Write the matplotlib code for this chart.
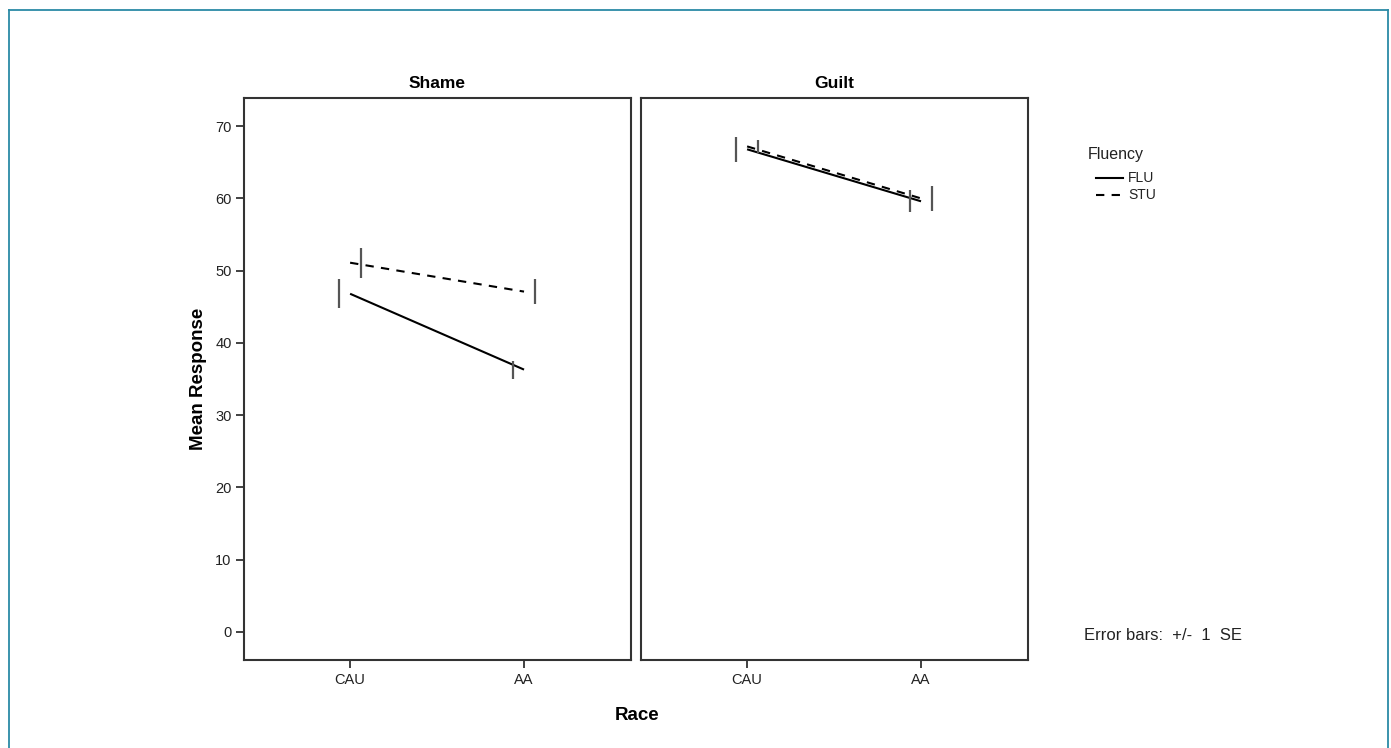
import matplotlib.pyplot as plt
from matplotlib.lines import Line2D

plt.rcParams['font.family'] = ['Liberation Sans', 'DejaVu Sans']

races = ['CAU', 'AA']
panels = ['Shame', 'Guilt']
flu_mean = {'Shame': [46.8, 36.3], 'Guilt': [66.8, 59.6]}
flu_se = {'Shame': [2.0, 1.25], 'Guilt': [1.7, 1.5]}
stu_mean = {'Shame': [51.1, 47.1], 'Guilt': [67.2, 60.0]}
stu_se = {'Shame': [2.05, 1.7], 'Guilt': [0.9, 1.7]}

W, H = 1391, 748
fig = plt.figure(figsize=(W / 100, H / 100), dpi=100)

# outer frame (open at the bottom)
for xs, ys in [([9, 9], [10, 760]), ([9, 1388], [10, 10]), ([1388, 1388], [10, 760])]:
    fig.add_artist(Line2D([v / W for v in xs], [1 - v / H for v in ys],
                          color='#2b8aa6', lw=1.3, transform=fig.transFigure))

boxes = [(244, 631), (641, 1028)]
top, bot = 98, 660
x = [0, 1]
off = 0.063
axes = []
for i, (name, (l, r)) in enumerate(zip(panels, boxes)):
    ax = fig.add_axes([l / W, 1 - bot / H, (r - l) / W, (bot - top) / H])
    axes.append(ax)
    ax.plot(x, flu_mean[name], color='black', lw=1.5, solid_capstyle='butt')
    ax.plot(x, stu_mean[name], color='black', lw=1.5, dashes=(4, 3.5))
    ax.errorbar([v - off for v in x], flu_mean[name], yerr=flu_se[name], fmt='none',
                ecolor='#555555', elinewidth=1.6, capsize=0)
    ax.errorbar([v + off for v in x], stu_mean[name], yerr=stu_se[name], fmt='none',
                ecolor='#555555', elinewidth=1.6, capsize=0)
    ax.set_xlim(-0.61, 1.615)
    ax.set_ylim(-3.9, 73.9)
    ax.set_xticks(x)
    ax.set_xticklabels(races)
    ax.set_yticks(range(0, 71, 10))
    ax.tick_params(axis='both', direction='out', length=6, width=1.3, color='#333333',
                   labelsize=10.5, labelcolor='#222222', pad=3)
    if i == 1:
        ax.tick_params(axis='y', left=False, labelleft=False)
    for s in ax.spines.values():
        s.set_color('#333333')
        s.set_linewidth(1.5)
    ax.set_title(name, fontsize=12.5, fontweight='bold', pad=7)

axes[0].set_ylabel('Mean Response', fontsize=13.5, fontweight='bold', labelpad=6)
fig.text(637 / W, 1 - 716 / H, 'Race', fontsize=13.5, fontweight='bold', ha='center', va='center')

# legend
fig.text(1088 / W, 1 - 155 / H, 'Fluency', fontsize=11.5, ha='left', va='center', color='#222222')
fig.add_artist(Line2D([1096 / W, 1123 / W], [1 - 178 / H] * 2, color='black', lw=1.5,
                      transform=fig.transFigure))
fig.add_artist(Line2D([1096 / W, 1123 / W], [1 - 195 / H] * 2, color='black', lw=1.5,
                      dashes=(4, 3.5), transform=fig.transFigure))
fig.text(1128 / W, 1 - 178 / H, 'FLU', fontsize=10, ha='left', va='center', color='#222222')
fig.text(1128 / W, 1 - 195 / H, 'STU', fontsize=10, ha='left', va='center', color='#222222')
fig.text(1084 / W, 1 - 636 / H, 'Error bars:  +/-  1  SE', fontsize=12, ha='left', va='center',
         color='#222222')

fig.savefig('out.png', dpi=100)
